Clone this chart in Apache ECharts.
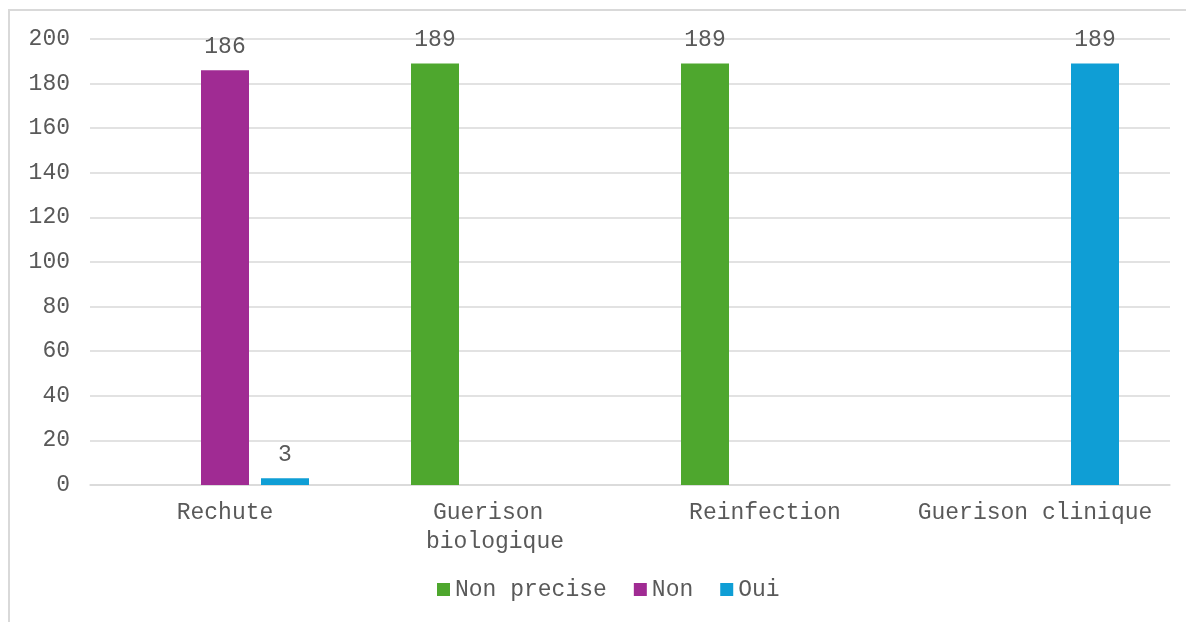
<!DOCTYPE html>
<html>
<head>
<meta charset="utf-8">
<script src="https://cdn.jsdelivr.net/npm/echarts@6/dist/echarts.min.js"></script>
<style>
  html, body { margin: 0; padding: 0; background: #ffffff; }
  #chart { width: 1186px; height: 622px; }
</style>
</head>
<body>
<div id="chart"></div>
<script>
// Categories and series values
const categories = ['Rechute', 'Guerison biologique', 'Reinfection', 'Guerison clinique'];
const seriesNames = ['Non precise', 'Non', 'Oui'];
const nonPrecise = [null, 189, 189, null];
const non = [186, null, null, null];
const oui = [3, null, null, 189];
const yTicks = { min: 0, max: 200, interval: 20 };

const FONT = '"Courier New", "Liberation Mono", monospace';
const TEXT = '#595959';
const colors = ['#4EA72E', '#A02B93', '#0F9ED5'];

const chart = echarts.init(document.getElementById('chart'), null, { renderer: 'canvas' });

function barSeries(name, data, color) {
  return {
    name: name,
    type: 'bar',
    data: data,
    barWidth: 48,
    barGap: '25%',
    itemStyle: { color: color },
    label: {
      show: true,
      position: 'top',
      distance: 12,
      color: TEXT,
      fontFamily: FONT,
      fontSize: 23
    }
  };
}

chart.setOption({
  animation: false,
  backgroundColor: '#ffffff',
  color: colors,
  // light frame around the chart area
  graphic: [{
    type: 'rect',
    shape: { x: 9, y: 10, width: 1300, height: 800 },
    style: { fill: 'none', stroke: '#d9d9d9', lineWidth: 2 },
    z: -1
  }],
  grid: { left: 90, right: 16, top: 39, bottom: 137, containLabel: false },
  legend: {
    data: seriesNames,
    left: 437,
    top: 578,
    padding: 0,
    itemWidth: 13,
    itemHeight: 13,
    itemGap: 27,
    icon: 'rect',
    textStyle: { color: TEXT, fontFamily: FONT, fontSize: 23 }
  },
  xAxis: {
    type: 'category',
    data: categories,
    axisLine: { show: true, lineStyle: { color: '#d9d9d9', width: 1.5 } },
    axisTick: { show: false },
    axisLabel: {
      color: TEXT,
      fontFamily: FONT,
      fontSize: 23,
      margin: 13,
      lineHeight: 29,
      width: 250,
      overflow: 'break',
      interval: 0
    }
  },
  yAxis: {
    type: 'value',
    min: yTicks.min,
    max: yTicks.max,
    interval: yTicks.interval,
    axisLine: { show: false },
    axisTick: { show: false },
    splitLine: { lineStyle: { color: '#d9d9d9', width: 1.5 } },
    axisLabel: { color: TEXT, fontFamily: FONT, fontSize: 23, margin: 20 }
  },
  series: [
    barSeries(seriesNames[0], nonPrecise, colors[0]),
    barSeries(seriesNames[1], non, colors[1]),
    barSeries(seriesNames[2], oui, colors[2])
  ]
});
</script>
</body>
</html>
